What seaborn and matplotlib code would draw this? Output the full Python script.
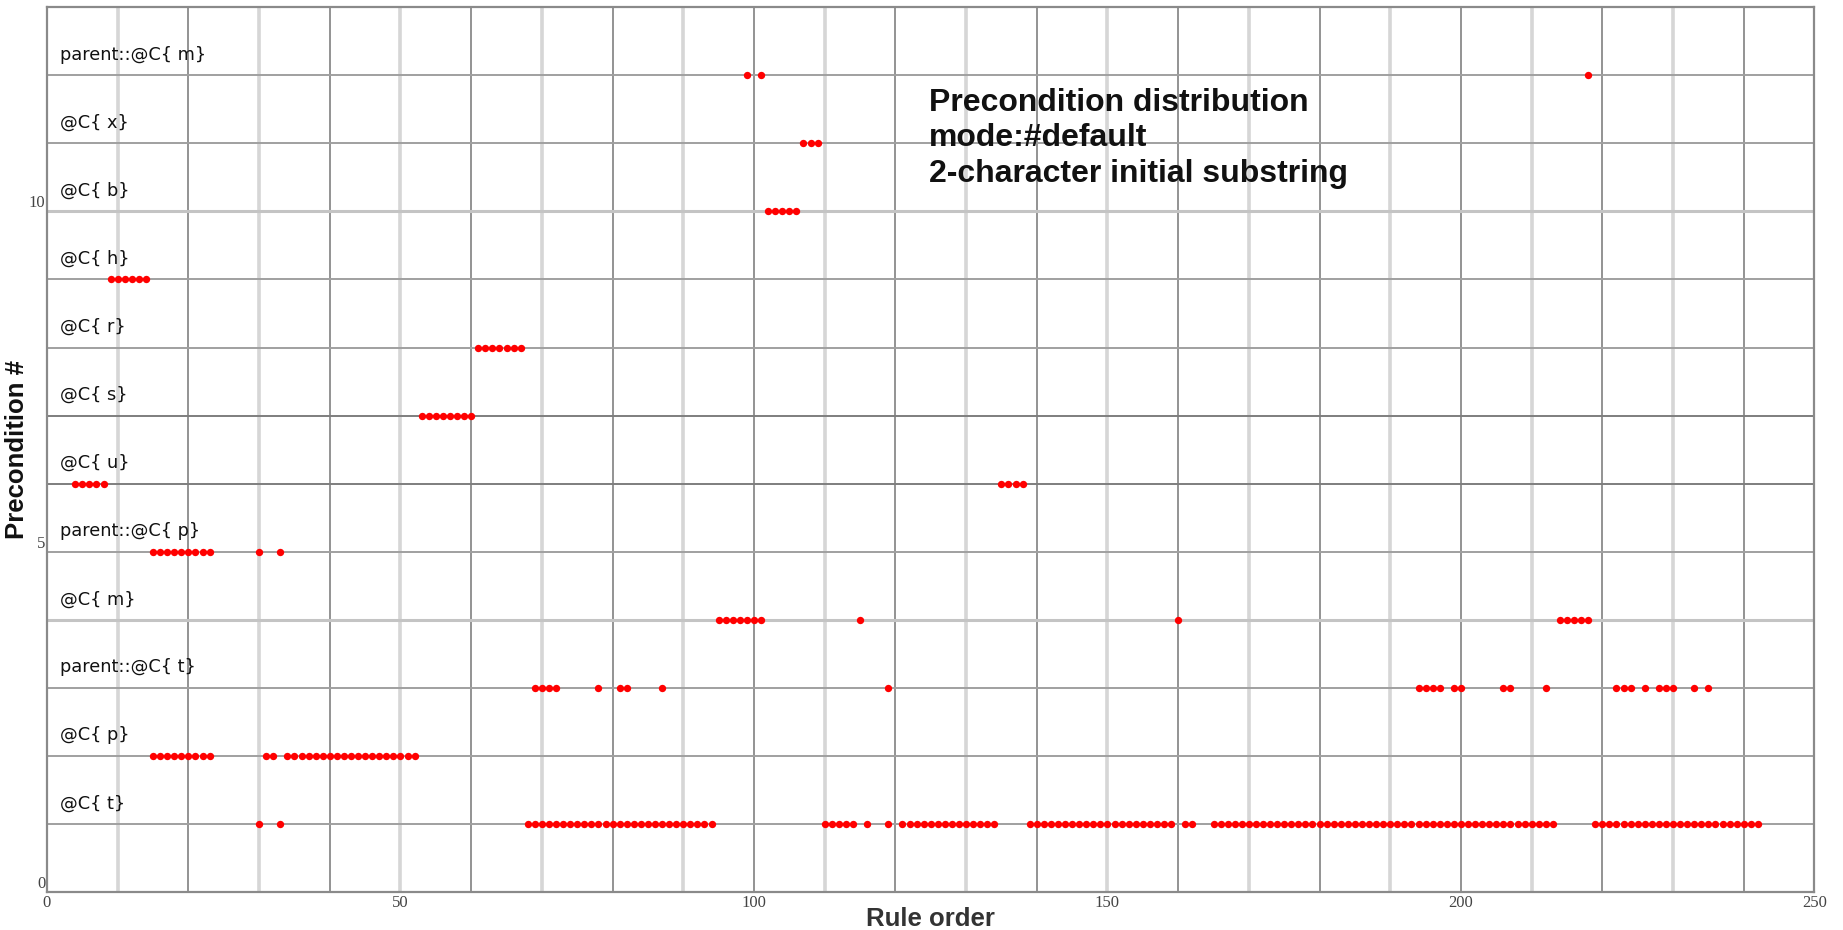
import matplotlib
matplotlib.use("Agg")
import matplotlib.pyplot as plt
import seaborn as sns
import pandas as pd

# ---- data ----
categories = ["@C{ t}", "@C{ p}", "parent::@C{ t}", "@C{ m}", "parent::@C{ p}",
              "@C{ u}", "@C{ s}", "@C{ r}", "@C{ h}", "@C{ b}", "@C{ x}",
              "parent::@C{ m}"]

rules_c_t = [30, 33,
             68, 69, 70, 71, 72, 73, 74, 75, 76, 77, 78, 79, 80, 81, 82, 83, 84,
             85, 86, 87, 88, 89, 90, 91, 92, 93, 94,
             110, 111, 112, 113, 114, 116, 119,
             121, 122, 123, 124, 125, 126, 127, 128, 129, 130, 131, 132, 133, 134,
             139, 140, 141, 142, 143, 144, 145, 146, 147, 148, 149, 150, 151, 152,
             153, 154, 155, 156, 157, 158, 159, 161, 162,
             165, 166, 167, 168, 169, 170, 171, 172, 173, 174, 175, 176, 177, 178,
             179, 180, 181, 182, 183, 184, 185, 186, 187, 188, 189, 190, 191, 192,
             193, 194, 195, 196, 197, 198, 199, 200, 201, 202, 203, 204, 205, 206,
             207, 208, 209, 210, 211, 212, 213,
             219, 220, 221, 222, 223, 224, 225, 226, 227, 228, 229, 230, 231, 232,
             233, 234, 235, 236, 237, 238, 239, 240, 241, 242]
rules_c_p = [15, 16, 17, 18, 19, 20, 21, 22, 23, 31, 32,
             34, 35, 36, 37, 38, 39, 40, 41, 42, 43, 44, 45, 46, 47, 48, 49, 50,
             51, 52]
rules_parent_c_t = [69, 70, 71, 72, 78, 81, 82, 87, 119, 194, 195, 196, 197,
                    199, 200, 206, 207, 212, 222, 223, 224, 226, 228, 229, 230,
                    233, 235]
rules_c_m = [95, 96, 97, 98, 99, 100, 101, 115, 160, 214, 215, 216, 217, 218]
rules_parent_c_p = [15, 16, 17, 18, 19, 20, 21, 22, 23, 30, 33]
rules_c_u = [4, 5, 6, 7, 8, 135, 136, 137, 138]
rules_c_s = [53, 54, 55, 56, 57, 58, 59, 60]
rules_c_r = [61, 62, 63, 64, 65, 66, 67]
rules_c_h = [9, 10, 11, 12, 13, 14]
rules_c_b = [102, 103, 104, 105, 106]
rules_c_x = [107, 108, 109]
rules_parent_c_m = [99, 101, 218]

rows = [rules_c_t, rules_c_p, rules_parent_c_t, rules_c_m, rules_parent_c_p,
        rules_c_u, rules_c_s, rules_c_r, rules_c_h, rules_c_b, rules_c_x,
        rules_parent_c_m]

x_ticks = [0, 50, 100, 150, 200, 250]
y_ticks = [0, 5, 10]
title_lines = ["Precondition distribution", "mode:#default",
               "2-character initial substring"]

# ---- build table ----
recs = []
for i, xs in enumerate(rows):
    for x in xs:
        recs.append({"rule": x, "precond": i + 1, "name": categories[i]})
df = pd.DataFrame(recs)

sns.set_theme(style="white")
plt.rcParams["font.family"] = ["DejaVu Sans"]

fig = plt.figure(figsize=(18.43, 9.30), dpi=100)
ax = fig.add_axes([0.0255, 0.0409, 0.959, 0.9513])

# grid lines
for gx in range(10, 250, 10):
    if (gx // 10) % 2 == 1:
        ax.axvline(gx, color="#d6d6d6", lw=2.6, zorder=0)
    else:
        ax.axvline(gx, color="#8a8a8a", lw=1.3, zorder=0)
for gy in range(1, 13):
    if gy in (4, 10):
        ax.axhline(gy, color="#c4c4c4", lw=2.2, zorder=0)
    elif gy in (6, 7):
        ax.axhline(gy, color="#7e7e7e", lw=1.4, zorder=0)
    else:
        ax.axhline(gy, color="#a0a0a0", lw=1.4, zorder=0)

sns.scatterplot(data=df, x="rule", y="precond", ax=ax, color="#ff0000",
                s=28, linewidth=0, marker="o", zorder=3, legend=False)

ax.set_xlim(0, 250)
ax.set_ylim(0, 13)
ax.set_xticks(x_ticks)
ax.set_yticks(y_ticks)
ax.set_xticklabels([str(v) for v in x_ticks], family="Liberation Serif",
                   fontsize=12, color="#444444")
ax.set_yticklabels([str(v) for v in y_ticks], family="Liberation Serif",
                   fontsize=12, color="#444444", va="bottom")
ax.tick_params(axis="both", length=0, pad=1)
ax.tick_params(axis="x", pad=2)

for sp in ax.spines.values():
    sp.set_color("#8a8a8a")
    sp.set_linewidth(1.6)

ax.set_xlabel("Rule order", fontsize=18.5, fontweight="bold", color="#333333",
              family="Liberation Sans", labelpad=-3)
ax.set_ylabel("Precondition #", fontsize=18.5, fontweight="bold", color="#111111",
              family="Liberation Sans", labelpad=0)

for i, name in enumerate(categories):
    ax.text(1.8, i + 1 + 0.3, name, fontsize=12.8, color="#111111",
            family="DejaVu Sans", va="center", ha="left", zorder=4)

ax.text(124.7, 11.82, "\n".join(title_lines), fontsize=23, fontweight="bold",
        family="Liberation Sans", color="#111111", va="top", ha="left",
        linespacing=1.25, zorder=4)

fig.savefig("out.png", dpi=100, facecolor="white")
